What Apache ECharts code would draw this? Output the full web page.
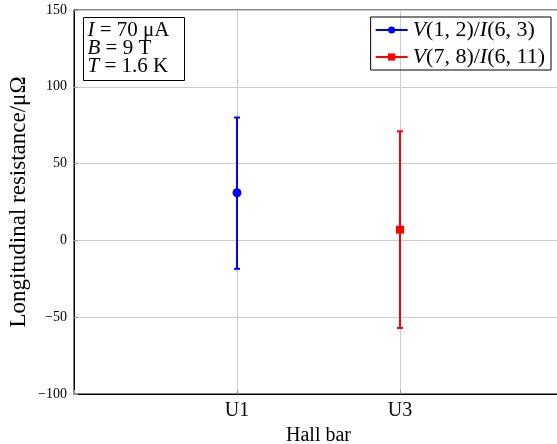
<!DOCTYPE html>
<html>
<head>
<meta charset="utf-8">
<script src="https://cdn.jsdelivr.net/npm/echarts@6/dist/echarts.min.js"></script>
<style>
  html, body { margin: 0; padding: 0; background: #fff; }
  .demo { width: 557px; height: 444px; }
</style>
</head>
<body>
<div class="demo"></div>
<script>
// data
const categories = ['U1', 'U3']
const positions = [1, 2]
const seriesNames = ['V(1,2)/I(6,3)', 'V(7,8)/I(6,11)']
const legendLabels = ['{i|V}(1, 2)/{i|I}(6, 3)', '{i|V}(7, 8)/{i|I}(6, 11)']
const centers = [31, 7]
const lows = [-18.5, -57]
const highs = [80, 71]
const colors = ['#0000ff', '#ff0000']
const symbols = ['circle', 'rect']
const yTicks = [-100, -50, 0, 50, 100, 150]

;(function () {
  const chartinstance = echarts.init(document.querySelector('.demo'))
  const font = 'Liberation Serif'

  function errorBar (params, api) {
    const x = api.value(0)
    const lo = api.coord([x, api.value(1)])
    const hi = api.coord([x, api.value(2)])
    const color = api.visual('color')
    const w = 3
    const st = { stroke: color, lineWidth: 2 }
    return {
      type: 'group',
      children: [
        { type: 'line', shape: { x1: lo[0], y1: lo[1], x2: hi[0], y2: hi[1] }, style: st },
        { type: 'line', shape: { x1: hi[0] - w, y1: hi[1], x2: hi[0] + w, y2: hi[1] }, style: st },
        { type: 'line', shape: { x1: lo[0] - w, y1: lo[1], x2: lo[0] + w, y2: lo[1] }, style: st }
      ]
    }
  }

  const series = []
  for (let i = 0; i < seriesNames.length; i++) {
    series.push({
      name: seriesNames[i],
      type: 'line',
      symbol: symbols[i],
      symbolSize: symbols[i] === 'rect' ? 8 : 9,
      lineStyle: { color: colors[i], width: 2 },
      itemStyle: { color: colors[i] },
      data: [[positions[i], centers[i]]],
      z: 4
    })
  }
  for (let i = 0; i < seriesNames.length; i++) {
    series.push({
      name: seriesNames[i],
      type: 'custom',
      renderItem: errorBar,
      itemStyle: { color: colors[i] },
      data: [[positions[i], lows[i], highs[i]]],
      z: 3
    })
  }

  const option = {
    animation: false,
    backgroundColor: '#fff',
    grid: {
      show: true,
      left: 74,
      right: -6,
      top: 10,
      bottom: 50,
      outerBoundsMode: 'none',
      containLabel: false,
      borderColor: '#000',
      borderWidth: 1
    },
    legend: {
      data: seriesNames,
      orient: 'vertical',
      right: 6,
      top: 17,
      padding: [2, 6, 2, 4],
      itemGap: 5,
      itemWidth: 32,
      itemHeight: 9,
      borderColor: '#000',
      borderWidth: 1,
      formatter: function (name) { return legendLabels[seriesNames.indexOf(name)] },
      textStyle: {
        fontFamily: font,
        fontSize: 22,
        color: '#000',
        rich: {
          i: { fontFamily: font, fontSize: 22, fontStyle: 'italic', color: '#000' }
        }
      }
    },
    xAxis: {
      type: 'value',
      min: 0,
      max: 3,
      interval: 1,
      name: 'Hall bar',
      nameLocation: 'middle',
      nameGap: 31,
      nameTextStyle: { fontFamily: font, fontSize: 20, color: '#000' },
      axisLine: { onZero: false, lineStyle: { color: '#000', width: 1 } },
      axisTick: { show: true, inside: true, length: 4, lineStyle: { color: '#999' } },
      splitLine: { show: true, lineStyle: { color: '#cccccc', width: 1 } },
      axisLabel: {
        fontFamily: font,
        fontSize: 20,
        color: '#000',
        margin: 7,
        formatter: function (v) {
          const k = positions.indexOf(v)
          return k >= 0 ? categories[k] : ''
        }
      }
    },
    yAxis: {
      type: 'value',
      min: -100,
      max: 150,
      interval: 50,
      name: 'Longitudinal resistance/μΩ',
      nameLocation: 'middle',
      nameGap: 44,
      nameMoveOverlap: false,
      nameTextStyle: { fontFamily: font, fontSize: 23, color: '#000' },
      axisLine: { show: true, lineStyle: { color: '#000', width: 1 } },
      axisTick: { show: true, inside: true, length: 4, lineStyle: { color: '#999' } },
      splitLine: { show: true, lineStyle: { color: '#cccccc', width: 1 } },
      axisLabel: {
        fontFamily: font,
        fontSize: 14,
        color: '#000',
        margin: 7,
        formatter: function (v) {
          return yTicks.indexOf(v) >= 0 ? String(v).replace('-', '\u2212') : ''
        }
      }
    },
    graphic: [
      {
        type: 'group',
        left: 83,
        top: 17,
        children: [
          {
            type: 'rect',
            shape: { x: 0, y: 0, width: 101, height: 63 },
            style: { fill: '#fff', stroke: '#000', lineWidth: 1 }
          },
          {
            type: 'text',
            x: 4,
            y: 4,
            style: {
              text: '{i|I} = 70 μA\n{i|B} = 9 T\n{i|T} = 1.6 K',
              fontFamily: font,
              fontSize: 21,
              lineHeight: 18,
              fill: '#000',
              rich: {
                i: { fontFamily: font, fontSize: 21, fontStyle: 'italic', lineHeight: 18, fill: '#000' }
              }
            }
          }
        ]
      }
    ],
    series: series
  }
  option && chartinstance.setOption(option)
  window.addEventListener('resize', () => {
    chartinstance.resize()
  })
})()
</script>
</body>
</html>
